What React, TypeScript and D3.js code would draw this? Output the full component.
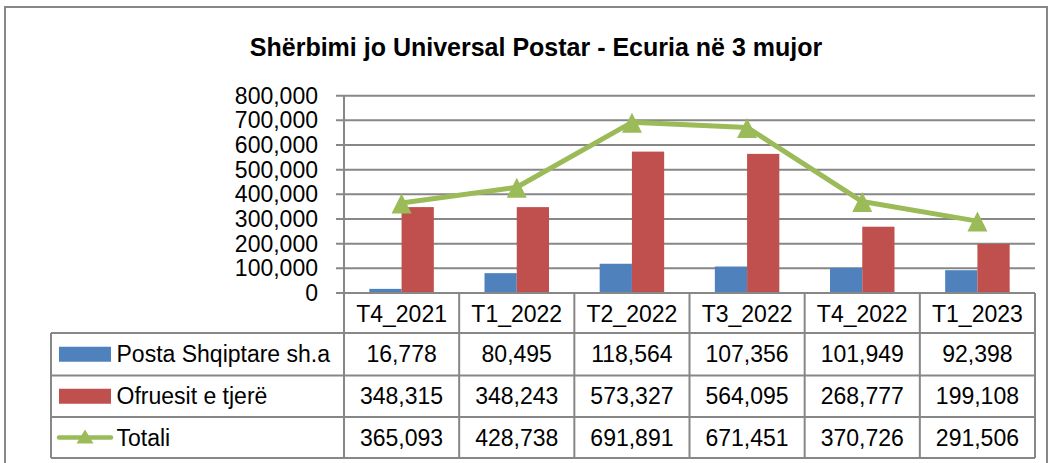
import React from "react";
import * as d3 from "d3";

const categories = ["T4_2021", "T1_2022", "T2_2022", "T3_2022", "T4_2022", "T1_2023"];
const postaValues = [16778, 80495, 118564, 107356, 101949, 92398];
const ofruesitValues = [348315, 348243, 573327, 564095, 268777, 199108];
const totaliValues = [365093, 428738, 691891, 671451, 370726, 291506];
const seriesNames = ["Posta Shqiptare sh.a", "Ofruesit e tjerë", "Totali"];
const yTicks = [0, 100000, 200000, 300000, 400000, 500000, 600000, 700000, 800000];
const title = "Shërbimi jo Universal Postar - Ecuria në 3 mujor";

const W = 1050;
const H = 463;
const BLUE = "#4F81BD";
const RED = "#C0504D";
const GREEN = "#9BBB59";
const GRID = "#878787";
const FONT = "'Liberation Sans', Arial, sans-serif";

export default function App() {
  const left = 344;
  const right = 1035;
  const top = 95.7;
  const bottom = 293;
  const tableLeft = 51;
  const rowYs = [293, 333, 375.5, 417, 458];

  const x = d3.scaleBand<string>().domain(categories).range([left, right]).padding(0);
  const y = d3.scaleLinear().domain([0, 800000]).range([bottom, top]);
  const bw = x.bandwidth();
  const barW = bw * 0.28;
  const fmt = d3.format(",");

  const line = d3
    .line<number>()
    .x((_, i) => x(categories[i])! + bw / 2)
    .y((d) => y(d));

  const tri = (cx: number, cy: number, w = 20, h = 20) =>
    `M${cx},${cy - h / 2} L${cx + w / 2},${cy + h / 2} L${cx - w / 2},${cy + h / 2} Z`;

  const rows = [
    { name: seriesNames[0], values: postaValues },
    { name: seriesNames[1], values: ofruesitValues },
    { name: seriesNames[2], values: totaliValues },
  ];

  return (
    <svg
      width={W}
      height={H}
      style={{ position: "absolute", left: 0, top: 0, background: "#fff" }}
      fontFamily={FONT}
    >
      {/* outer frame */}
      <path d={`M5,${H} V7 H1047 V${H}`} fill="none" stroke={GRID} strokeWidth={2} />

      <text x={536} y={47} textAnchor="middle" dominantBaseline="central" fontSize={25} fontWeight="bold" fill="#000">
        {title}
      </text>

      {/* gridlines and ticks */}
      {yTicks.map((t) => (
        <g key={t}>
          <line x1={336} x2={t === 0 ? left : right} y1={y(t)} y2={y(t)} stroke={GRID} strokeWidth={2} />
          <text x={318} y={y(t)} textAnchor="end" dominantBaseline="central" fontSize={23} fill="#000">
            {fmt(t)}
          </text>
        </g>
      ))}

      {/* bars */}
      {categories.map((c, i) => {
        const cx = x(c)! + bw / 2;
        return (
          <g key={c}>
            <rect x={cx - barW} y={y(postaValues[i])} width={barW} height={bottom - y(postaValues[i])} fill={BLUE} />
            <rect x={cx} y={y(ofruesitValues[i])} width={barW} height={bottom - y(ofruesitValues[i])} fill={RED} />
          </g>
        );
      })}

      {/* totals line */}
      <path d={line(totaliValues)!} fill="none" stroke={GREEN} strokeWidth={5} strokeLinejoin="round" />
      {totaliValues.map((v, i) => (
        <path key={i} d={tri(x(categories[i])! + bw / 2, y(v) + 0.5)} fill={GREEN} />
      ))}

      {/* table lines */}
      <line x1={left} x2={right} y1={bottom} y2={bottom} stroke={GRID} strokeWidth={2} />
      {rowYs.slice(1).map((ry) => (
        <line key={ry} x1={tableLeft} x2={right} y1={ry} y2={ry} stroke={GRID} strokeWidth={2} />
      ))}
      <line x1={left} x2={left} y1={top} y2={458} stroke={GRID} strokeWidth={2} />
      <line x1={tableLeft} x2={tableLeft} y1={333} y2={458} stroke={GRID} strokeWidth={2} />
      {categories.map((c) => (
        <line key={c} x1={x(c)! + bw} x2={x(c)! + bw} y1={bottom} y2={458} stroke={GRID} strokeWidth={2} />
      ))}

      {/* header labels */}
      {categories.map((c) => (
        <text key={c} x={x(c)! + bw / 2} y={(rowYs[0] + rowYs[1]) / 2 + 1} textAnchor="middle" dominantBaseline="central" fontSize={23} fill="#000">
          {c}
        </text>
      ))}

      {/* rows */}
      {rows.map((r, ri) => {
        const cy = (rowYs[ri + 1] + rowYs[ri + 2]) / 2;
        return (
          <g key={r.name}>
            {ri === 0 && <rect x={59} y={cy - 7.5} width={52} height={15} fill={BLUE} />}
            {ri === 1 && <rect x={59} y={cy - 7.5} width={52} height={15} fill={RED} />}
            {ri === 2 && (
              <g>
                <line x1={59} x2={111} y1={cy} y2={cy} stroke={GREEN} strokeWidth={4.5} strokeLinecap="round" />
                <path d={tri(85, cy - 1, 17, 14)} fill={GREEN} />
              </g>
            )}
            <text x={116.5} y={cy} dominantBaseline="central" fontSize={23} fill="#000">
              {r.name}
            </text>
            {r.values.map((v, i) => (
              <text key={i} x={x(categories[i])! + bw / 2} y={cy} textAnchor="middle" dominantBaseline="central" fontSize={23} fill="#000">
                {fmt(v)}
              </text>
            ))}
          </g>
        );
      })}
    </svg>
  );
}
